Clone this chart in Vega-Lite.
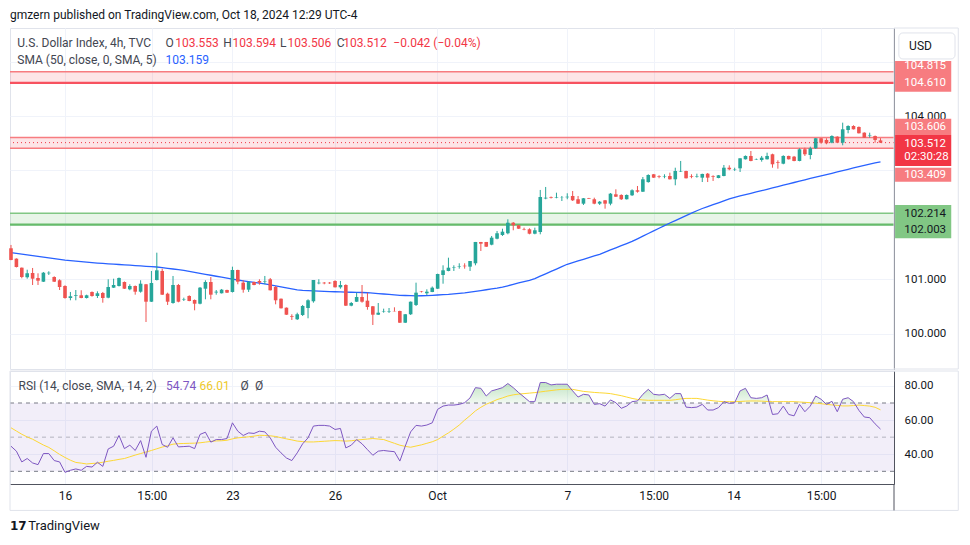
{
"$schema": "https://vega.github.io/schema/vega-lite/v6.json",
"background": "white",
"padding": {"left": 7, "top": 9, "right": 0, "bottom": 0},
"title": {"text": "gmzern published on TradingView.com, Oct 18, 2024 12:29 UTC-4", "anchor": "start", "frame": "group", "fontSize": 12, "fontWeight": "normal", "color": "#131722", "font": "Roboto", "offset": 5},
"spacing": 0,
"datasets": {"bars": [
{"i":0,"o":101.57,"h":101.631,"l":101.35,"c":101.355,"sma":101.49,"rsi":44.7,"ma":55.5},
{"i":1,"o":101.379,"h":101.385,"l":101.217,"c":101.226,"sma":101.476,"rsi":41.8,"ma":53.6},
{"i":2,"o":101.213,"h":101.217,"l":101.018,"c":101.042,"sma":101.463,"rsi":35.5,"ma":51.7},
{"i":3,"o":101.037,"h":101.176,"l":101.011,"c":101.11,"sma":101.449,"rsi":37.5,"ma":50.1},
{"i":4,"o":101.116,"h":101.208,"l":100.895,"c":101.011,"sma":101.435,"rsi":34.9,"ma":48.8},
{"i":5,"o":101.024,"h":101.11,"l":100.895,"c":100.974,"sma":101.422,"rsi":33.9,"ma":47.1},
{"i":6,"o":100.956,"h":101.134,"l":100.95,"c":101.121,"sma":101.408,"rsi":40.4,"ma":45.4},
{"i":7,"o":101.11,"h":101.147,"l":101.079,"c":101.121,"sma":101.394,"rsi":40.4,"ma":44.0},
{"i":8,"o":101.042,"h":101.055,"l":100.95,"c":100.956,"sma":101.38,"rsi":36.3,"ma":42.0},
{"i":9,"o":100.982,"h":101.0,"l":100.803,"c":100.858,"sma":101.367,"rsi":35.5,"ma":39.9},
{"i":10,"o":100.877,"h":100.89,"l":100.643,"c":100.656,"sma":101.353,"rsi":29.4,"ma":38.1},
{"i":11,"o":100.656,"h":100.767,"l":100.614,"c":100.688,"sma":101.343,"rsi":30.6,"ma":36.5},
{"i":12,"o":100.693,"h":100.803,"l":100.614,"c":100.706,"sma":101.334,"rsi":31.4,"ma":35.2},
{"i":13,"o":100.706,"h":100.798,"l":100.651,"c":100.656,"sma":101.325,"rsi":30.6,"ma":34.8},
{"i":14,"o":100.656,"h":100.717,"l":100.647,"c":100.706,"sma":101.316,"rsi":32.9,"ma":34.3},
{"i":15,"o":100.767,"h":100.776,"l":100.68,"c":100.693,"sma":101.307,"rsi":32.5,"ma":34.6},
{"i":16,"o":100.693,"h":100.779,"l":100.656,"c":100.743,"sma":101.298,"rsi":35.3,"ma":34.8},
{"i":17,"o":100.748,"h":100.767,"l":100.57,"c":100.656,"sma":101.291,"rsi":32.9,"ma":35.3},
{"i":18,"o":100.662,"h":101.0,"l":100.651,"c":100.858,"sma":101.284,"rsi":43.1,"ma":35.9},
{"i":19,"o":100.846,"h":101.011,"l":100.84,"c":100.895,"sma":101.278,"rsi":44.7,"ma":36.4},
{"i":20,"o":100.877,"h":101.033,"l":100.868,"c":101.024,"sma":101.272,"rsi":51.0,"ma":37.0},
{"i":21,"o":100.95,"h":100.96,"l":100.822,"c":100.827,"sma":101.265,"rsi":43.3,"ma":37.5},
{"i":22,"o":100.816,"h":100.908,"l":100.798,"c":100.877,"sma":101.259,"rsi":45.3,"ma":38.5},
{"i":23,"o":100.877,"h":100.886,"l":100.717,"c":100.772,"sma":101.252,"rsi":42.2,"ma":39.5},
{"i":24,"o":100.772,"h":100.982,"l":100.754,"c":100.919,"sma":101.246,"rsi":48.0,"ma":40.4},
{"i":25,"o":100.908,"h":100.914,"l":100.215,"c":100.588,"sma":101.239,"rsi":38.2,"ma":41.3},
{"i":26,"o":100.588,"h":101.153,"l":100.583,"c":100.932,"sma":101.233,"rsi":53.5,"ma":42.2},
{"i":27,"o":100.987,"h":101.489,"l":100.978,"c":101.165,"sma":101.226,"rsi":56.5,"ma":43.2},
{"i":28,"o":101.153,"h":101.195,"l":100.711,"c":100.717,"sma":101.214,"rsi":45.7,"ma":44.2},
{"i":29,"o":100.735,"h":100.754,"l":100.528,"c":100.588,"sma":101.201,"rsi":44.1,"ma":45.0},
{"i":30,"o":100.564,"h":101.061,"l":100.551,"c":100.895,"sma":101.189,"rsi":49.6,"ma":45.9},
{"i":31,"o":100.895,"h":100.914,"l":100.577,"c":100.588,"sma":101.176,"rsi":44.3,"ma":46.2},
{"i":32,"o":100.629,"h":100.662,"l":100.601,"c":100.638,"sma":101.163,"rsi":44.5,"ma":46.3},
{"i":33,"o":100.693,"h":100.706,"l":100.596,"c":100.601,"sma":101.145,"rsi":44.7,"ma":46.4},
{"i":34,"o":100.619,"h":100.629,"l":100.43,"c":100.551,"sma":101.127,"rsi":43.3,"ma":46.5},
{"i":35,"o":100.551,"h":100.858,"l":100.54,"c":100.846,"sma":101.109,"rsi":51.6,"ma":46.7},
{"i":36,"o":100.827,"h":100.982,"l":100.632,"c":100.95,"sma":101.091,"rsi":52.9,"ma":47.1},
{"i":37,"o":100.95,"h":101.042,"l":100.632,"c":100.717,"sma":101.074,"rsi":47.1,"ma":47.5},
{"i":38,"o":100.757,"h":100.803,"l":100.717,"c":100.772,"sma":101.056,"rsi":48.6,"ma":47.8},
{"i":39,"o":100.743,"h":100.822,"l":100.739,"c":100.809,"sma":101.038,"rsi":48.6,"ma":47.9},
{"i":40,"o":100.803,"h":100.809,"l":100.748,"c":100.754,"sma":101.02,"rsi":49.2,"ma":48.2},
{"i":41,"o":100.767,"h":101.232,"l":100.757,"c":101.171,"sma":101.002,"rsi":58.4,"ma":49.0},
{"i":42,"o":101.171,"h":101.176,"l":100.908,"c":100.956,"sma":100.987,"rsi":53.5,"ma":49.6},
{"i":43,"o":100.938,"h":100.982,"l":100.754,"c":100.809,"sma":100.972,"rsi":51.0,"ma":49.9},
{"i":44,"o":100.809,"h":100.969,"l":100.767,"c":100.95,"sma":100.958,"rsi":52.5,"ma":50.2},
{"i":45,"o":100.95,"h":100.956,"l":100.89,"c":100.895,"sma":100.943,"rsi":52.2,"ma":50.6},
{"i":46,"o":100.969,"h":101.0,"l":100.901,"c":100.938,"sma":100.928,"rsi":53.5,"ma":51.1},
{"i":47,"o":100.96,"h":101.061,"l":100.908,"c":100.969,"sma":100.914,"rsi":53.1,"ma":51.0},
{"i":48,"o":101.0,"h":101.024,"l":100.794,"c":100.798,"sma":100.897,"rsi":49.6,"ma":50.8},
{"i":49,"o":100.858,"h":100.877,"l":100.54,"c":100.614,"sma":100.879,"rsi":44.1,"ma":50.4},
{"i":50,"o":100.643,"h":100.647,"l":100.463,"c":100.467,"sma":100.861,"rsi":40.8,"ma":49.7},
{"i":51,"o":100.478,"h":100.482,"l":100.344,"c":100.349,"sma":100.843,"rsi":37.8,"ma":49.0},
{"i":52,"o":100.32,"h":100.357,"l":100.252,"c":100.307,"sma":100.825,"rsi":36.3,"ma":48.4},
{"i":53,"o":100.265,"h":100.386,"l":100.252,"c":100.357,"sma":100.807,"rsi":40.8,"ma":47.7},
{"i":54,"o":100.344,"h":100.528,"l":100.325,"c":100.509,"sma":100.796,"rsi":46.1,"ma":47.4},
{"i":55,"o":100.472,"h":100.632,"l":100.283,"c":100.614,"sma":100.792,"rsi":49.6,"ma":47.2},
{"i":56,"o":100.596,"h":100.987,"l":100.57,"c":100.987,"sma":100.787,"rsi":56.5,"ma":47.2},
{"i":57,"o":100.926,"h":101.0,"l":100.908,"c":100.938,"sma":100.783,"rsi":56.9,"ma":47.4},
{"i":58,"o":100.938,"h":100.95,"l":100.908,"c":100.926,"sma":100.779,"rsi":56.9,"ma":47.6},
{"i":59,"o":100.938,"h":100.95,"l":100.914,"c":100.926,"sma":100.775,"rsi":56.5,"ma":47.8},
{"i":60,"o":100.969,"h":100.982,"l":100.849,"c":100.853,"sma":100.771,"rsi":54.5,"ma":48.0},
{"i":61,"o":100.853,"h":100.969,"l":100.827,"c":100.895,"sma":100.768,"rsi":55.1,"ma":47.9},
{"i":62,"o":100.895,"h":100.908,"l":100.509,"c":100.515,"sma":100.765,"rsi":43.7,"ma":47.7},
{"i":63,"o":100.515,"h":100.583,"l":100.504,"c":100.564,"sma":100.762,"rsi":45.3,"ma":47.9},
{"i":64,"o":100.588,"h":100.754,"l":100.583,"c":100.675,"sma":100.759,"rsi":48.6,"ma":48.3},
{"i":65,"o":100.675,"h":100.895,"l":100.57,"c":100.588,"sma":100.757,"rsi":46.1,"ma":48.6},
{"i":66,"o":100.607,"h":100.754,"l":100.441,"c":100.491,"sma":100.753,"rsi":42.7,"ma":48.9},
{"i":67,"o":100.504,"h":100.509,"l":100.16,"c":100.349,"sma":100.745,"rsi":39.4,"ma":49.2},
{"i":68,"o":100.349,"h":100.564,"l":100.344,"c":100.386,"sma":100.738,"rsi":41.8,"ma":48.9},
{"i":69,"o":100.404,"h":100.46,"l":100.386,"c":100.412,"sma":100.73,"rsi":42.2,"ma":48.6},
{"i":70,"o":100.399,"h":100.472,"l":100.381,"c":100.408,"sma":100.722,"rsi":41.8,"ma":47.5},
{"i":71,"o":100.417,"h":100.485,"l":100.408,"c":100.412,"sma":100.714,"rsi":41.5,"ma":46.4},
{"i":72,"o":100.417,"h":100.423,"l":100.197,"c":100.202,"sma":100.706,"rsi":36.0,"ma":45.3},
{"i":73,"o":100.202,"h":100.362,"l":100.197,"c":100.357,"sma":100.702,"rsi":44.7,"ma":44.6},
{"i":74,"o":100.357,"h":100.592,"l":100.344,"c":100.588,"sma":100.698,"rsi":53.1,"ma":44.1},
{"i":75,"o":100.528,"h":100.938,"l":100.509,"c":100.754,"sma":100.694,"rsi":56.9,"ma":44.8},
{"i":76,"o":100.776,"h":100.785,"l":100.757,"c":100.767,"sma":100.697,"rsi":56.5,"ma":45.5},
{"i":77,"o":100.743,"h":100.816,"l":100.711,"c":100.772,"sma":100.701,"rsi":57.1,"ma":46.4},
{"i":78,"o":100.767,"h":100.868,"l":100.763,"c":100.846,"sma":100.706,"rsi":58.4,"ma":47.3},
{"i":79,"o":100.827,"h":101.103,"l":100.822,"c":101.097,"sma":100.711,"rsi":66.3,"ma":48.6},
{"i":80,"o":101.079,"h":101.257,"l":100.919,"c":101.165,"sma":100.717,"rsi":68.2,"ma":50.6},
{"i":81,"o":101.153,"h":101.397,"l":101.147,"c":101.213,"sma":100.722,"rsi":68.8,"ma":52.5},
{"i":82,"o":101.208,"h":101.257,"l":101.153,"c":101.217,"sma":100.731,"rsi":68.8,"ma":54.7},
{"i":83,"o":101.235,"h":101.294,"l":101.195,"c":101.244,"sma":100.741,"rsi":69.2,"ma":57.1},
{"i":84,"o":101.25,"h":101.294,"l":101.195,"c":101.239,"sma":100.75,"rsi":70.2,"ma":60.0},
{"i":85,"o":101.232,"h":101.336,"l":101.153,"c":101.336,"sma":100.763,"rsi":73.0,"ma":62.6},
{"i":86,"o":101.294,"h":101.686,"l":101.257,"c":101.686,"sma":100.778,"rsi":79.0,"ma":65.4},
{"i":87,"o":101.686,"h":101.686,"l":101.52,"c":101.654,"sma":100.793,"rsi":78.6,"ma":67.5},
{"i":88,"o":101.686,"h":101.686,"l":101.594,"c":101.599,"sma":100.808,"rsi":74.1,"ma":69.3},
{"i":89,"o":101.636,"h":101.796,"l":101.625,"c":101.765,"sma":100.822,"rsi":77.1,"ma":70.6},
{"i":90,"o":101.746,"h":101.888,"l":101.735,"c":101.846,"sma":100.837,"rsi":78.0,"ma":72.0},
{"i":91,"o":101.814,"h":101.93,"l":101.796,"c":101.875,"sma":100.856,"rsi":79.0,"ma":73.0},
{"i":92,"o":101.846,"h":102.103,"l":101.827,"c":102.04,"sma":100.881,"rsi":81.4,"ma":74.1},
{"i":93,"o":102.04,"h":102.053,"l":101.901,"c":101.993,"sma":100.907,"rsi":79.0,"ma":74.8},
{"i":94,"o":101.993,"h":101.998,"l":101.925,"c":101.93,"sma":100.932,"rsi":76.1,"ma":75.2},
{"i":95,"o":101.925,"h":101.949,"l":101.901,"c":101.915,"sma":100.957,"rsi":73.5,"ma":75.5},
{"i":96,"o":101.919,"h":101.937,"l":101.827,"c":101.838,"sma":100.982,"rsi":70.8,"ma":75.8},
{"i":97,"o":101.838,"h":101.949,"l":101.827,"c":101.901,"sma":101.013,"rsi":70.8,"ma":76.1},
{"i":98,"o":101.869,"h":102.642,"l":101.827,"c":102.513,"sma":101.057,"rsi":82.0,"ma":76.5},
{"i":99,"o":102.485,"h":102.697,"l":102.471,"c":102.5,"sma":101.101,"rsi":82.0,"ma":76.9},
{"i":100,"o":102.507,"h":102.522,"l":102.485,"c":102.494,"sma":101.145,"rsi":80.6,"ma":77.3},
{"i":101,"o":102.494,"h":102.592,"l":102.489,"c":102.504,"sma":101.188,"rsi":81.0,"ma":77.7},
{"i":102,"o":102.5,"h":102.531,"l":102.439,"c":102.504,"sma":101.232,"rsi":81.0,"ma":78.0},
{"i":103,"o":102.507,"h":102.581,"l":102.471,"c":102.518,"sma":101.276,"rsi":81.0,"ma":78.0},
{"i":104,"o":102.531,"h":102.623,"l":102.439,"c":102.452,"sma":101.307,"rsi":77.1,"ma":78.0},
{"i":105,"o":102.471,"h":102.531,"l":102.384,"c":102.39,"sma":101.337,"rsi":73.5,"ma":77.4},
{"i":106,"o":102.39,"h":102.494,"l":102.366,"c":102.489,"sma":101.368,"rsi":75.1,"ma":76.8},
{"i":107,"o":102.494,"h":102.496,"l":102.478,"c":102.482,"sma":101.399,"rsi":74.7,"ma":76.5},
{"i":108,"o":102.471,"h":102.5,"l":102.379,"c":102.39,"sma":101.429,"rsi":69.2,"ma":76.2},
{"i":109,"o":102.39,"h":102.439,"l":102.366,"c":102.426,"sma":101.46,"rsi":69.6,"ma":76.0},
{"i":110,"o":102.452,"h":102.458,"l":102.298,"c":102.39,"sma":101.499,"rsi":68.2,"ma":75.8},
{"i":111,"o":102.39,"h":102.586,"l":102.36,"c":102.574,"sma":101.539,"rsi":71.8,"ma":75.5},
{"i":112,"o":102.562,"h":102.654,"l":102.513,"c":102.518,"sma":101.578,"rsi":70.2,"ma":74.9},
{"i":113,"o":102.55,"h":102.562,"l":102.458,"c":102.471,"sma":101.618,"rsi":66.9,"ma":74.3},
{"i":114,"o":102.471,"h":102.559,"l":102.467,"c":102.55,"sma":101.657,"rsi":68.2,"ma":73.5},
{"i":115,"o":102.544,"h":102.654,"l":102.531,"c":102.636,"sma":101.696,"rsi":70.8,"ma":72.7},
{"i":116,"o":102.636,"h":102.715,"l":102.592,"c":102.61,"sma":101.743,"rsi":71.2,"ma":72.1},
{"i":117,"o":102.61,"h":102.88,"l":102.605,"c":102.838,"sma":101.792,"rsi":75.1,"ma":71.8},
{"i":118,"o":102.787,"h":102.93,"l":102.776,"c":102.917,"sma":101.841,"rsi":78.0,"ma":71.6},
{"i":119,"o":102.93,"h":102.936,"l":102.862,"c":102.868,"sma":101.889,"rsi":75.1,"ma":71.6},
{"i":120,"o":102.893,"h":102.912,"l":102.857,"c":102.88,"sma":101.938,"rsi":74.7,"ma":71.6},
{"i":121,"o":102.89,"h":102.93,"l":102.857,"c":102.899,"sma":101.987,"rsi":75.1,"ma":71.6},
{"i":122,"o":102.899,"h":102.96,"l":102.835,"c":102.838,"sma":102.034,"rsi":72.7,"ma":71.6},
{"i":123,"o":102.838,"h":103.051,"l":102.728,"c":102.991,"sma":102.079,"rsi":75.5,"ma":71.9},
{"i":124,"o":102.982,"h":103.175,"l":102.972,"c":102.991,"sma":102.124,"rsi":75.5,"ma":72.4},
{"i":125,"o":102.991,"h":102.996,"l":102.853,"c":102.857,"sma":102.17,"rsi":67.6,"ma":72.7},
{"i":126,"o":102.893,"h":102.93,"l":102.857,"c":102.88,"sma":102.215,"rsi":67.3,"ma":72.7},
{"i":127,"o":102.88,"h":102.941,"l":102.868,"c":102.89,"sma":102.26,"rsi":67.6,"ma":72.7},
{"i":128,"o":102.868,"h":102.941,"l":102.788,"c":102.936,"sma":102.301,"rsi":69.2,"ma":72.2},
{"i":129,"o":102.941,"h":102.954,"l":102.788,"c":102.868,"sma":102.336,"rsi":65.9,"ma":71.7},
{"i":130,"o":102.899,"h":102.912,"l":102.807,"c":102.886,"sma":102.371,"rsi":65.9,"ma":71.3},
{"i":131,"o":102.862,"h":102.917,"l":102.857,"c":102.912,"sma":102.406,"rsi":67.3,"ma":71.0},
{"i":132,"o":102.899,"h":103.101,"l":102.893,"c":103.051,"sma":102.441,"rsi":70.8,"ma":70.8},
{"i":133,"o":103.051,"h":103.095,"l":103.004,"c":103.022,"sma":102.476,"rsi":69.8,"ma":70.8},
{"i":134,"o":103.015,"h":103.051,"l":102.991,"c":103.022,"sma":102.507,"rsi":70.2,"ma":70.8},
{"i":135,"o":103.04,"h":103.224,"l":102.972,"c":103.224,"sma":102.532,"rsi":77.1,"ma":70.9},
{"i":136,"o":103.206,"h":103.276,"l":103.202,"c":103.267,"sma":102.556,"rsi":78.6,"ma":71.1},
{"i":137,"o":103.267,"h":103.358,"l":103.169,"c":103.175,"sma":102.58,"rsi":73.1,"ma":71.2},
{"i":138,"o":103.198,"h":103.22,"l":103.193,"c":103.206,"sma":102.605,"rsi":72.7,"ma":71.2},
{"i":139,"o":103.193,"h":103.267,"l":103.162,"c":103.235,"sma":102.629,"rsi":73.1,"ma":71.1},
{"i":140,"o":103.206,"h":103.327,"l":103.202,"c":103.267,"sma":102.654,"rsi":74.7,"ma":70.9},
{"i":141,"o":103.298,"h":103.309,"l":103.051,"c":103.114,"sma":102.679,"rsi":63.3,"ma":70.8},
{"i":142,"o":103.151,"h":103.187,"l":103.033,"c":103.138,"sma":102.704,"rsi":63.7,"ma":70.8},
{"i":143,"o":103.125,"h":103.279,"l":103.114,"c":103.267,"sma":102.729,"rsi":68.2,"ma":70.8},
{"i":144,"o":103.267,"h":103.272,"l":103.202,"c":103.206,"sma":102.754,"rsi":63.3,"ma":70.8},
{"i":145,"o":103.254,"h":103.267,"l":103.169,"c":103.175,"sma":102.779,"rsi":62.5,"ma":70.8},
{"i":146,"o":103.175,"h":103.408,"l":103.169,"c":103.39,"sma":102.805,"rsi":69.2,"ma":70.6},
{"i":147,"o":103.39,"h":103.419,"l":103.267,"c":103.298,"sma":102.829,"rsi":64.9,"ma":70.4},
{"i":148,"o":103.285,"h":103.437,"l":103.206,"c":103.408,"sma":102.853,"rsi":68.2,"ma":70.2},
{"i":149,"o":103.408,"h":103.597,"l":103.395,"c":103.592,"sma":102.877,"rsi":74.1,"ma":69.9},
{"i":150,"o":103.592,"h":103.597,"l":103.493,"c":103.511,"sma":102.901,"rsi":72.2,"ma":69.6},
{"i":151,"o":103.561,"h":103.592,"l":103.482,"c":103.5,"sma":102.925,"rsi":69.2,"ma":69.2},
{"i":152,"o":103.511,"h":103.647,"l":103.5,"c":103.634,"sma":102.949,"rsi":71.0,"ma":68.9},
{"i":153,"o":103.621,"h":103.629,"l":103.505,"c":103.511,"sma":102.973,"rsi":64.9,"ma":68.6},
{"i":154,"o":103.511,"h":103.879,"l":103.463,"c":103.757,"sma":102.998,"rsi":72.2,"ma":68.3},
{"i":155,"o":103.744,"h":103.831,"l":103.684,"c":103.818,"sma":103.022,"rsi":73.1,"ma":68.3},
{"i":156,"o":103.818,"h":103.831,"l":103.754,"c":103.757,"sma":103.046,"rsi":70.8,"ma":68.5},
{"i":157,"o":103.8,"h":103.809,"l":103.68,"c":103.684,"sma":103.07,"rsi":65.7,"ma":68.8},
{"i":158,"o":103.695,"h":103.702,"l":103.597,"c":103.603,"sma":103.094,"rsi":61.8,"ma":68.5},
{"i":159,"o":103.643,"h":103.695,"l":103.603,"c":103.653,"sma":103.118,"rsi":61.4,"ma":68.2},
{"i":160,"o":103.634,"h":103.643,"l":103.511,"c":103.561,"sma":103.138,"rsi":57.8,"ma":67.5},
{"i":161,"o":103.553,"h":103.594,"l":103.506,"c":103.512,"sma":103.159,"rsi":54.74,"ma":66.01}
]},
"vconcat": [
{
"width": 884, "height": 341,
"layer": [
{"data": {"values": [{"lo":104.61,"hi":104.815,"zone":"resistance"},{"lo":103.409,"hi":103.606,"zone":"resistance"},{"lo":102.003,"hi":102.214,"zone":"support"}]},
 "mark": {"type":"rect","opacity":0.13},
 "encoding": {"x":{"datum":-0.185,"type":"quantitative","scale":{"domain":[-0.185,163.5],"nice":false,"zero":false,"padding":0}},"x2":{"datum":163.5},
  "y":{"field":"lo","type":"quantitative","scale":{"domain":[99.351,105.619],"nice":false,"zero":false}},"y2":{"field":"hi"},
  "color":{"condition":{"test":"datum.zone == 'support'","value":"#4caf50"},"value":"#f23645"}}},
{"data": {"values": [{"p":104.815,"zone":"resistance"},{"p":103.606,"zone":"resistance"},{"p":103.409,"zone":"resistance"},{"p":102.214,"zone":"support"}]},
 "mark": {"type":"rule","strokeWidth":1.3},
 "encoding": {"y":{"field":"p","type":"quantitative","scale":{"domain":[99.351,105.619],"nice":false,"zero":false}},
  "color":{"condition":{"test":"datum.zone == 'support'","value":"#81c784"},"value":"#f77c80"}}},
{"data": {"values": [{"p":104.61,"zone":"resistance"},{"p":102.003,"zone":"support"}]},
 "mark": {"type":"rule","strokeWidth":2.2},
 "encoding": {"y":{"field":"p","type":"quantitative","scale":{"domain":[99.351,105.619],"nice":false,"zero":false}},
  "color":{"condition":{"test":"datum.zone == 'support'","value":"#66bb6a"},"value":"#f7525f"}}},
{"data": {"values": [{"p":103.512}]},
 "mark": {"type":"rule","color":"#f23645","strokeDash":[1,3],"strokeWidth":1},
 "encoding": {"y":{"field":"p","type":"quantitative","scale":{"domain":[99.351,105.619],"nice":false,"zero":false}}}},
{"data": {"name":"bars"},
 "mark": {"type":"line","color":"#2962ff","strokeWidth":1.3},
 "encoding": {"x":{"field":"i","type":"quantitative","scale":{"domain":[-0.185,163.5],"nice":false,"zero":false,"padding":0}},
  "y":{"field":"sma","type":"quantitative","scale":{"domain":[99.351,105.619],"nice":false,"zero":false}}}},
{"data": {"name":"bars"},
 "mark": {"type":"rule","strokeWidth":1},
 "encoding": {"x":{"field":"i","type":"quantitative","scale":{"domain":[-0.185,163.5],"nice":false,"zero":false,"padding":0},
   "axis":{"values":[10,26.05,41,60,78.9,103,119,133.8,150],"labels":false,"ticks":false,"domain":false,"grid":true,"gridColor":"#f0f3fa","title":null}},
  "y":{"field":"l","type":"quantitative","scale":{"domain":[99.351,105.619],"nice":false,"zero":false},
   "axis":{"orient":"right","values":[100,101,102,103,104,105],"labelExpr":"datum.value == 100 || datum.value == 101 || datum.value == 104 ? format(datum.value, '.3f') : ''","grid":true,"gridColor":"#f0f3fa","ticks":false,"tickSize":0,"domainColor":"#50535e","labelPadding":10,"labelFontSize":11.5,"labelColor":"#131722","title":null}},
  "y2":{"field":"h"},
  "color":{"condition":{"test":"datum.c >= datum.o","value":"#26a69a"},"value":"#ef5350"}}},
{"data": {"name":"bars"},
 "mark": {"type":"bar","width":3.6,"minBandSize":1},
 "encoding": {"x":{"field":"i","type":"quantitative","scale":{"domain":[-0.185,163.5],"nice":false,"zero":false,"padding":0}},
  "y":{"field":"o","type":"quantitative","scale":{"domain":[99.351,105.619],"nice":false,"zero":false}},
  "y2":{"field":"c"},
  "color":{"condition":{"test":"datum.c >= datum.o","value":"#26a69a"},"value":"#ef5350"}}},
{"data": {"values": [{"i":1.17,"p":105.344,"t":"U.S. Dollar Index, 4h, TVC"},{"i":28.6,"p":105.344,"t":"O"},{"i":39.3,"p":105.344,"t":"H"},{"i":49.8,"p":105.344,"t":"L"},{"i":60.3,"p":105.344,"t":"C"},{"i":1.17,"p":105.031,"t":"SMA (50, close, 0, SMA, 5)"}]},
 "mark": {"type":"text","align":"left","baseline":"middle","fontSize":12,"color":"#434651","font":"Roboto"},
 "encoding": {"x":{"field":"i","type":"quantitative","scale":{"domain":[-0.185,163.5],"nice":false,"zero":false,"padding":0}},
  "y":{"field":"p","type":"quantitative","scale":{"domain":[99.351,105.619],"nice":false,"zero":false}},"text":{"field":"t"}}},
{"data": {"values": [{"i":30.4,"p":105.344,"t":"103.553"},{"i":41.0,"p":105.344,"t":"103.594"},{"i":51.2,"p":105.344,"t":"103.506"},{"i":61.5,"p":105.344,"t":"103.512"},{"i":70.8,"p":105.344,"t":"−0.042 (−0.04%)"}]},
 "mark": {"type":"text","align":"left","baseline":"middle","fontSize":12,"color":"#f23645","font":"Roboto"},
 "encoding": {"x":{"field":"i","type":"quantitative","scale":{"domain":[-0.185,163.5],"nice":false,"zero":false,"padding":0}},
  "y":{"field":"p","type":"quantitative","scale":{"domain":[99.351,105.619],"nice":false,"zero":false}},"text":{"field":"t"}}},
{"data": {"values": [{"i":28.6,"p":105.031,"t":"103.159"}]},
 "mark": {"type":"text","align":"left","baseline":"middle","fontSize":12,"color":"#2962ff","font":"Roboto"},
 "encoding": {"x":{"field":"i","type":"quantitative","scale":{"domain":[-0.185,163.5],"nice":false,"zero":false,"padding":0}},
  "y":{"field":"p","type":"quantitative","scale":{"domain":[99.351,105.619],"nice":false,"zero":false}},"text":{"field":"t"}}},
{"data": {"values": [{"top":105.013,"bottom":104.448},{"top":103.95,"bottom":103.653},{"top":103.051,"bottom":102.794}]},
 "mark": {"type":"rect","color":"#f77c80"},
 "encoding": {"x":{"datum":163.7,"type":"quantitative","scale":{"domain":[-0.185,163.5],"nice":false,"zero":false,"padding":0}},"x2":{"datum":174.1},
  "y":{"field":"top","type":"quantitative","scale":{"domain":[99.351,105.619],"nice":false,"zero":false}},"y2":{"field":"bottom"}}},
{"data": {"values": [{"top":103.653,"bottom":103.083}]},
 "mark": {"type":"rect","color":"#f23645"},
 "encoding": {"x":{"datum":163.7,"type":"quantitative","scale":{"domain":[-0.185,163.5],"nice":false,"zero":false,"padding":0}},"x2":{"datum":174.1},
  "y":{"field":"top","type":"quantitative","scale":{"domain":[99.351,105.619],"nice":false,"zero":false}},"y2":{"field":"bottom"}}},
{"data": {"values": [{"top":102.366,"bottom":101.754}]},
 "mark": {"type":"rect","color":"#81c784"},
 "encoding": {"x":{"datum":163.7,"type":"quantitative","scale":{"domain":[-0.185,163.5],"nice":false,"zero":false,"padding":0}},"x2":{"datum":174.1},
  "y":{"field":"top","type":"quantitative","scale":{"domain":[99.351,105.619],"nice":false,"zero":false}},"y2":{"field":"bottom"}}},
{"data": {"values": [{"p":104.921,"t":"104.815"},{"p":104.603,"t":"104.610"},{"p":103.795,"t":"103.606"},{"p":103.493,"t":"103.512"},{"p":103.254,"t":"02:30:28"},{"p":102.917,"t":"103.409"}]},
 "mark": {"type":"text","align":"left","baseline":"middle","fontSize":11.5,"color":"white","font":"Roboto"},
 "encoding": {"x":{"datum":165.4,"type":"quantitative","scale":{"domain":[-0.185,163.5],"nice":false,"zero":false,"padding":0}},
  "y":{"field":"p","type":"quantitative","scale":{"domain":[99.351,105.619],"nice":false,"zero":false}},"text":{"field":"t"}}},
{"data": {"values": [{"p":102.206,"t":"102.214"},{"p":101.901,"t":"102.003"}]},
 "mark": {"type":"text","align":"left","baseline":"middle","fontSize":11.5,"color":"#131722","font":"Roboto"},
 "encoding": {"x":{"datum":165.4,"type":"quantitative","scale":{"domain":[-0.185,163.5],"nice":false,"zero":false,"padding":0}},
  "y":{"field":"p","type":"quantitative","scale":{"domain":[99.351,105.619],"nice":false,"zero":false}},"text":{"field":"t"}}},
{"data": {"values": [{"top":105.528,"bottom":105.05}]},
 "mark": {"type":"rect","fill":"white","stroke":"#e0e3eb","strokeWidth":1,"cornerRadius":4},
 "encoding": {"x":{"datum":164.4,"type":"quantitative","scale":{"domain":[-0.185,163.5],"nice":false,"zero":false,"padding":0}},"x2":{"datum":174.8},
  "y":{"field":"top","type":"quantitative","scale":{"domain":[99.351,105.619],"nice":false,"zero":false}},"y2":{"field":"bottom"}}},
{"data": {"values": [{"p":105.289,"t":"USD"}]},
 "mark": {"type":"text","align":"left","baseline":"middle","fontSize":12,"color":"#131722","font":"Roboto"},
 "encoding": {"x":{"datum":166.3,"type":"quantitative","scale":{"domain":[-0.185,163.5],"nice":false,"zero":false,"padding":0}},
  "y":{"field":"p","type":"quantitative","scale":{"domain":[99.351,105.619],"nice":false,"zero":false}},"text":{"field":"t"}}},
{"data": {"values": [{"top":105.619,"bottom":99.351}]},
 "mark": {"type":"rect","filled":false,"stroke":"#e0e3eb","strokeWidth":1},
 "encoding": {"x":{"datum":163.5,"type":"quantitative","scale":{"domain":[-0.185,163.5],"nice":false,"zero":false,"padding":0}},"x2":{"datum":175.4},
  "y":{"field":"top","type":"quantitative","scale":{"domain":[99.351,105.619],"nice":false,"zero":false}},"y2":{"field":"bottom"}}}
]
},
{
"width": 884, "height": 113,
"resolve": {"scale": {"y": "independent"}},
"layer": [
{"layer": [
 {"data": {"values": [{"top":70,"bottom":30}]},
  "mark": {"type":"rect","color":"#7e57c2","opacity":0.1},
  "encoding": {"x":{"datum":-0.185,"type":"quantitative","scale":{"domain":[-0.185,163.5],"nice":false,"zero":false,"padding":0}},"x2":{"datum":163.5},
   "y":{"field":"top","type":"quantitative","scale":{"domain":[22.57,88.75],"nice":false,"zero":false},"axis":null},"y2":{"field":"bottom"}}},
 {"data": {"values": [{"v":70},{"v":30}]},
  "mark": {"type":"rule","color":"#787b86","strokeDash":[4,4],"strokeWidth":1},
  "encoding": {"y":{"field":"v","type":"quantitative","scale":{"domain":[22.57,88.75],"nice":false,"zero":false},"axis":null}}},
 {"data": {"values": [{"v":50}]},
  "mark": {"type":"rule","color":"#787b86","strokeDash":[4,4],"strokeWidth":1,"opacity":0.5},
  "encoding": {"y":{"field":"v","type":"quantitative","scale":{"domain":[22.57,88.75],"nice":false,"zero":false},"axis":null}}}
]},
{"data": {"name":"bars"},
 "mark": {"type":"area","color":{"gradient":"linear","x1":0,"y1":0,"x2":0,"y2":1,"stops":[{"offset":0,"color":"rgba(76,175,80,0.35)"},{"offset":1,"color":"rgba(76,175,80,0.08)"}]}},
 "encoding": {"x":{"field":"i","type":"quantitative","scale":{"domain":[-0.185,163.5],"nice":false,"zero":false,"padding":0}},
  "y":{"field":"rsi","type":"quantitative","scale":{"domain":[70,88.75],"range":[32,0],"clamp":true,"nice":false,"zero":false},"axis":null},
  "y2":{"datum":70}}},
{"layer": [
 {"data": {"name":"bars"},
  "mark": {"type":"line","color":"#fdd835","strokeWidth":1},
  "encoding": {"x":{"field":"i","type":"quantitative","scale":{"domain":[-0.185,163.5],"nice":false,"zero":false,"padding":0}},
   "y":{"field":"ma","type":"quantitative","scale":{"domain":[22.57,88.75],"nice":false,"zero":false}}}},
 {"data": {"name":"bars"},
  "mark": {"type":"line","color":"#7e57c2","strokeWidth":1},
  "encoding": {"x":{"field":"i","type":"quantitative","scale":{"domain":[-0.185,163.5],"nice":false,"zero":false,"padding":0},
    "axis":{"values":[10,26.05,41,60,78.9,103,119,133.8,150],"labelExpr":"['16','15:00','23','26','Oct','7','15:00','14','15:00'][indexof([10,26.05,41,60,78.9,103,119,133.8,150], datum.value)]","grid":true,"gridColor":"#f0f3fa","ticks":false,"tickSize":0,"domainColor":"#50535e","labelColor":"#131722","labelFontSize":12,"labelPadding":6,"labelFlush":false,"title":null}},
   "y":{"field":"rsi","type":"quantitative","scale":{"domain":[22.57,88.75],"nice":false,"zero":false},
    "axis":{"orient":"right","values":[40,60,80],"format":".2f","grid":true,"gridColor":"#f0f3fa","ticks":false,"tickSize":0,"domainColor":"#50535e","labelPadding":10,"labelFontSize":11.5,"labelColor":"#131722","title":null}}}},
 {"data": {"values": [{"i":1.39,"v":80,"t":"RSI (14, close, SMA, 14, 2)"},{"i":42.5,"v":80,"t":"Ø"},{"i":45.2,"v":80,"t":"Ø"}]},
  "mark": {"type":"text","align":"left","baseline":"middle","fontSize":12,"color":"#434651","font":"Roboto"},
  "encoding": {"x":{"field":"i","type":"quantitative","scale":{"domain":[-0.185,163.5],"nice":false,"zero":false,"padding":0}},
   "y":{"field":"v","type":"quantitative","scale":{"domain":[22.57,88.75],"nice":false,"zero":false}},"text":{"field":"t"}}},
 {"data": {"values": [{"i":28.7,"v":80,"t":"54.74"}]},
  "mark": {"type":"text","align":"left","baseline":"middle","fontSize":12,"color":"#7e57c2","font":"Roboto"},
  "encoding": {"x":{"field":"i","type":"quantitative","scale":{"domain":[-0.185,163.5],"nice":false,"zero":false,"padding":0}},
   "y":{"field":"v","type":"quantitative","scale":{"domain":[22.57,88.75],"nice":false,"zero":false}},"text":{"field":"t"}}},
 {"data": {"values": [{"i":34.9,"v":80,"t":"66.01"}]},
  "mark": {"type":"text","align":"left","baseline":"middle","fontSize":12,"color":"#eec92a","font":"Roboto"},
  "encoding": {"x":{"field":"i","type":"quantitative","scale":{"domain":[-0.185,163.5],"nice":false,"zero":false,"padding":0}},
   "y":{"field":"v","type":"quantitative","scale":{"domain":[22.57,88.75],"nice":false,"zero":false}},"text":{"field":"t"}}},
 {"data": {"values": [{"top":88.75,"bottom":7.1}]},
  "mark": {"type":"rect","filled":false,"stroke":"#e0e3eb","strokeWidth":1},
  "encoding": {"x":{"datum":-0.185,"type":"quantitative","scale":{"domain":[-0.185,163.5],"nice":false,"zero":false,"padding":0}},"x2":{"datum":175.4},
   "y":{"field":"top","type":"quantitative","scale":{"domain":[22.57,88.75],"nice":false,"zero":false}},"y2":{"field":"bottom"}}},
 {"data": {"values": [{"top":22.57,"bottom":7.1}]},
  "mark": {"type":"rule","color":"#50535e","strokeWidth":1},
  "encoding": {"x":{"datum":163.5,"type":"quantitative","scale":{"domain":[-0.185,163.5],"nice":false,"zero":false,"padding":0}},
   "y":{"field":"top","type":"quantitative","scale":{"domain":[22.57,88.75],"nice":false,"zero":false}},"y2":{"field":"bottom"}}},
 {"data": {"values": [{"i":-0.185,"v":-2.2,"t":"17"}]},
  "mark": {"type":"text","align":"left","baseline":"middle","fontSize":12,"fontWeight":"bold","color":"#131722","font":"DejaVu Sans","letterSpacing":-1},
  "encoding": {"x":{"field":"i","type":"quantitative","scale":{"domain":[-0.185,163.5],"nice":false,"zero":false,"padding":0}},
   "y":{"field":"v","type":"quantitative","scale":{"domain":[22.57,88.75],"nice":false,"zero":false}},"text":{"field":"t"}}},
 {"data": {"values": [{"i":3.2,"v":-2.2,"t":"TradingView"}]},
  "mark": {"type":"text","align":"left","baseline":"middle","fontSize":13,"color":"#131722","font":"Roboto"},
  "encoding": {"x":{"field":"i","type":"quantitative","scale":{"domain":[-0.185,163.5],"nice":false,"zero":false,"padding":0}},
   "y":{"field":"v","type":"quantitative","scale":{"domain":[22.57,88.75],"nice":false,"zero":false}},"text":{"field":"t"}}}
]}
]
}
],
"config": {
 "view": {"stroke": "#e0e3eb"},
 "font": "Roboto",
 "axis": {"labelFont": "Roboto"},
 "concat": {"spacing": 0}
}
}
